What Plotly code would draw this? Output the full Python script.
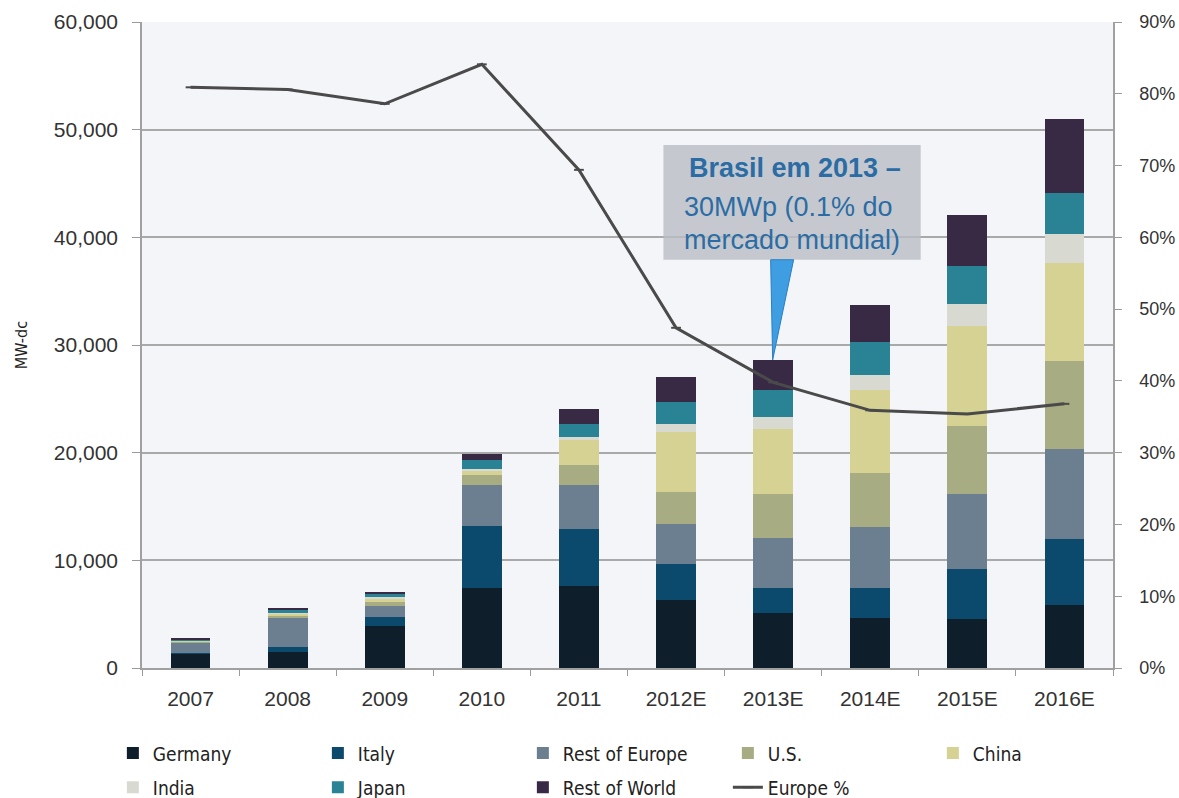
import plotly.graph_objects as go

years = ["2007", "2008", "2009", "2010", "2011", "2012E", "2013E", "2014E", "2015E", "2016E"]
germany = [1300, 1500, 3900, 7450, 7600, 6300, 5100, 4650, 4550, 5850]
italy = [50, 450, 850, 5750, 5300, 3350, 2300, 2800, 4650, 6150]
rest_of_europe = [1000, 2700, 1000, 3800, 4100, 3700, 4700, 5650, 7000, 8350]
us = [120, 250, 400, 900, 1850, 3000, 4100, 5000, 6300, 8200]
china = [50, 150, 350, 400, 2300, 5600, 6000, 7700, 9300, 9100]
india = [20, 50, 100, 200, 300, 700, 1100, 1400, 2050, 2700]
japan = [150, 250, 300, 800, 1200, 2100, 2500, 3050, 3450, 3800]
rest_of_world = [100, 200, 200, 600, 1400, 2300, 2800, 3500, 4800, 6800]
europe_pct = [0.809, 0.806, 0.786, 0.841, 0.694, 0.474, 0.398, 0.359, 0.354, 0.368]

series = [
    ("Germany", germany, "#0e1f2b", "legend"),
    ("Italy", italy, "#0b4a6c", "legend"),
    ("Rest of Europe", rest_of_europe, "#6b7f91", "legend"),
    ("U.S.", us, "#a7ac82", "legend"),
    ("China", china, "#d5d294", "legend"),
    ("India", india, "#d8dad2", "legend2"),
    ("Japan", japan, "#2a8394", "legend2"),
    ("Rest of World", rest_of_world, "#382a45", "legend2"),
]

narrow = "Liberation Sans Narrow, Arial Narrow, DejaVu Sans Condensed, sans-serif"
regular = "Liberation Sans, Arial, sans-serif"

fig = go.Figure()
for name, vals, color, lg in series:
    fig.add_trace(go.Bar(x=years, y=vals, name=name, marker=dict(color=color, line=dict(width=0)),
                         legend=lg))

fig.add_trace(go.Scatter(x=years, y=europe_pct, name="Europe %", yaxis="y2", mode="lines+markers",
                         line=dict(color="#4a4a4a", width=3),
                         marker=dict(symbol="line-ew", size=7, line=dict(color="#4a4a4a", width=2)),
                         legend="legend2"))

legend_common = dict(orientation="h", xanchor="left", yanchor="middle",
                     font=dict(family=narrow, size=19, color="#222"),
                     entrywidth=160, bgcolor="rgba(0,0,0,0)", traceorder="normal")

fig.update_layout(
    width=1179, height=798,
    margin=dict(l=142, r=66, t=22, b=130, autoexpand=False),
    paper_bgcolor="white",
    plot_bgcolor="#f4f5f9",
    barmode="stack",
    bargap=0.59,
    showlegend=True,
    legend=dict(x=-0.03, y=-0.132, **legend_common),
    legend2=dict(x=-0.03, y=-0.185, **legend_common),
    xaxis=dict(type="category", range=[-0.5, 9.5], showgrid=False, ticks="outside",
               tickson="boundaries",
               ticklen=6, tickcolor="#9a9a9a", showline=True, linecolor="#a0a0a0", linewidth=1.5,
               ticklabelstandoff=11,
               tickfont=dict(family=regular, size=21, color="#333")),
    yaxis=dict(range=[0, 60000], dtick=10000, tickformat=",", showgrid=True,
               gridcolor="#a9a9a9", gridwidth=1.5, ticks="outside", ticklen=8, tickcolor="#9a9a9a",
               showline=True, linecolor="#a0a0a0", linewidth=1.5, zeroline=False,
               ticklabelstandoff=10,
               tickfont=dict(family=regular, size=21, color="#333")),
    yaxis2=dict(range=[0, 0.9], dtick=0.1, tickformat=".0%", overlaying="y", side="right",
                showgrid=False, ticks="outside", ticklen=7, tickcolor="#9a9a9a",
                showline=True, linecolor="#a0a0a0", linewidth=1.5, zeroline=False,
                ticklabelstandoff=14,
                tickfont=dict(family=regular, size=18, color="#333")),
)
fig.update_yaxes(title=dict(text="MW-dc", font=dict(family=narrow, size=16, color="#222"),
                            standoff=22), selector=dict(side="left"))
fig.layout.yaxis.title = dict(text="MW-dc", font=dict(family=narrow, size=16, color="#222"),
                              standoff=22)

# callout box
fig.add_shape(type="rect", xref="paper", yref="paper", x0=0.537, x1=0.802, y0=0.632, y1=0.8096,
              fillcolor="rgba(185,190,196,0.8)", line=dict(width=0), layer="above")
fig.add_shape(type="path", xref="paper", yref="paper",
              path="M 0.6474 0.632 L 0.6711 0.632 L 0.6495 0.4768 Z",
              fillcolor="#3f9de2", line=dict(color="#2a7fc4", width=1), layer="above")

lines = [("<b>Brasil em 2013 –</b>", 0.5608, 0.774), ("30MWp (0.1% do", 0.5557, 0.7136),
         ("mercado mundial)", 0.5557, 0.6625)]
for txt, xx, yy in lines:
    fig.add_annotation(text=txt, xref="paper", yref="paper", x=xx, y=yy, xanchor="left",
                       yanchor="middle", showarrow=False,
                       font=dict(family=regular, size=27, color="#2c6ca4"))

fig.write_html("out.html")
